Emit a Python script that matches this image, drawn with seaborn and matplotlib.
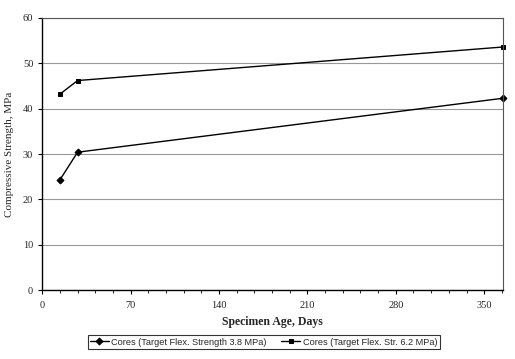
import pandas as pd
import numpy as np
import matplotlib.pyplot as plt
import seaborn as sns

# --- Data ---
age_days = [14, 28, 365]
strength_38 = [24.3, 30.4, 42.3]
strength_62 = [43.2, 46.2, 53.6]
label_38 = 'Cores (Target Flex. Strength 3.8 MPa)'
label_62 = 'Cores (Target Flex. Str. 6.2 MPa)'

df = pd.DataFrame({
    'age': age_days * 2,
    'strength': strength_38 + strength_62,
    'series': [label_38] * 3 + [label_62] * 3,
})

sns.set_style('white')
plt.rcParams['font.family'] = ['Liberation Serif', 'DejaVu Serif']

fig = plt.figure(figsize=(5.15, 3.59), dpi=100)
ax = fig.add_axes([0.082, 0.192, 0.895, 0.758])

sns.lineplot(data=df, x='age', y='strength', hue='series', style='series',
             palette=['black', 'black'], markers=['D', 's'], dashes=False,
             markersize=3.5, markeredgecolor='black', linewidth=1.0, ax=ax)
for line in ax.lines:
    line.set_clip_on(False)

# --- Axes formatting ---
ax.set_xlim(0, 365)
ax.set_ylim(0, 60)
ax.set_xticks(np.arange(0, 351, 70))
ax.set_xticks(np.arange(0, 365, 14), minor=True)
ax.set_yticks(np.arange(0, 61, 10))
ax.yaxis.grid(True, color='#999999', linewidth=0.8)
ax.xaxis.grid(False)
ax.set_axisbelow(True)

for side in ['top', 'right']:
    ax.spines[side].set_color('#555555')
    ax.spines[side].set_linewidth(0.8)
for side in ['left', 'bottom']:
    ax.spines[side].set_color('black')
    ax.spines[side].set_linewidth(1.0)

ax.tick_params(axis='both', which='major', labelsize=7.5, length=3, direction='out',
               bottom=True, left=True, color='black')
ax.tick_params(axis='x', which='minor', length=2, bottom=True, color='black')
ax.tick_params(axis='x', pad=5)

ax.set_xlabel('Specimen Age, Days', fontsize=8.5, fontweight='bold', labelpad=4)
ax.set_ylabel('Compressive Strength, MPa', fontsize=8, labelpad=6)

# --- Legend below the plot ---
handles, labels = ax.get_legend_handles_labels()
ax.get_legend().remove()
leg = fig.legend(handles, labels, loc='center', bbox_to_anchor=(0.512, 0.047),
                 ncol=2, frameon=True, fancybox=False, edgecolor='black',
                 prop={'family': 'Liberation Sans', 'size': 6.6}, handlelength=2.0,
                 borderpad=0.3, columnspacing=1.6, handletextpad=0.3)
leg.get_frame().set_linewidth(0.8)

plt.savefig('out.png', dpi=100)
